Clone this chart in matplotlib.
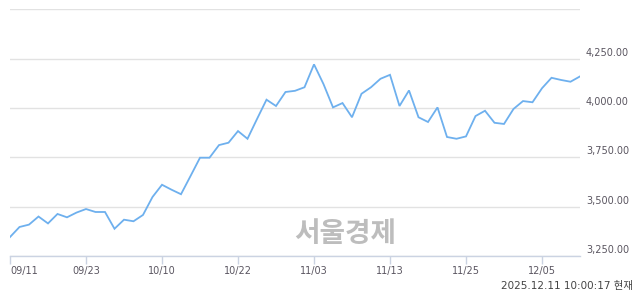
import matplotlib
matplotlib.use("Agg")
import matplotlib.pyplot as plt
from matplotlib.transforms import ScaledTranslation

# KOSPI closing values (trading days 09/11 .. 12/11)
values = [3346, 3397, 3409, 3450, 3415, 3463, 3446, 3470, 3488, 3473,
          3473, 3388, 3434, 3426, 3458, 3549, 3611, 3586, 3563, 3655,
          3748, 3748, 3812, 3824, 3883, 3844, 3944, 4042, 4010, 4081,
          4087, 4105, 4221, 4121, 4003, 4025, 3953, 4072, 4105, 4148,
          4168, 4010, 4089, 3953, 3929, 4003, 3853, 3844, 3856, 3959,
          3986, 3925, 3919, 3995, 4035, 4029, 4100, 4153, 4142, 4133,
          4160]
x_tick_idx = [0, 8, 16, 24, 32, 40, 48, 56]
x_tick_labels = ['09/11', '09/23', '10/10', '10/22', '11/03', '11/13', '11/25', '12/05']
y_ticks = [3250, 3500, 3750, 4000, 4250, 4500]
y_tick_labels = ['3,250.00', '3,500.00', '3,750.00', '4,000.00', '4,250.00', '']
timestamp = '2025.12.11 10:00:17 현재'
watermark = '서울경제'

W, H = 640, 294
fig = plt.figure(figsize=(W / 100, H / 100), dpi=100)
left, right = 10 / W, 580 / W
bottom, top = (H - 256) / H, (H - 9.3) / H
ax = fig.add_axes([left, bottom, right - left, top - bottom])

xs = list(range(len(values)))
ax.plot(xs, values, color='#6eb0ee', lw=1.3, solid_joinstyle='miter', zorder=3)

ax.set_xlim(0, len(values) - 1)
ax.set_ylim(y_ticks[0], y_ticks[-1])

for s in ['top', 'right', 'left']:
    ax.spines[s].set_visible(False)
ax.spines['bottom'].set_color('#cbd3e2')
ax.spines['bottom'].set_linewidth(1.0)

ax.set_yticks(y_ticks)
ax.yaxis.grid(True, color='#e2e2e2', lw=1.0)
ax.set_axisbelow(True)
ax.tick_params(axis='y', length=0, labelleft=False, labelright=False)

ax.set_xticks(x_tick_idx)
ax.set_xticklabels(x_tick_labels)
ax.tick_params(axis='x', direction='out', length=5.5, width=1.0, color='#cbd3e2',
               labelsize=7, labelcolor='#5a5560', pad=2)
ax.get_xticklabels()[0].set_horizontalalignment('left')

off = ScaledTranslation(6 / 100, 6 / 100, fig.dpi_scale_trans)
for v, lab in zip(y_ticks, y_tick_labels):
    if lab:
        ax.text(1.0, v, lab, transform=ax.get_yaxis_transform() + off,
                ha='left', va='center', fontsize=7, color='#5a5560')

fig.text(633 / W, 1 - 286 / H, timestamp, ha='right', va='center', fontsize=7.5,
         color='#444444', family=['DejaVu Sans', 'Noto Sans CJK KR'])

fig.text(345 / W, 1 - 233.5 / H, watermark, ha='center', va='center', fontsize=20,
         fontweight='bold', color='#bdbdbd', family=['Noto Sans CJK KR'], zorder=1)

fig.savefig('out.png', dpi=100)
